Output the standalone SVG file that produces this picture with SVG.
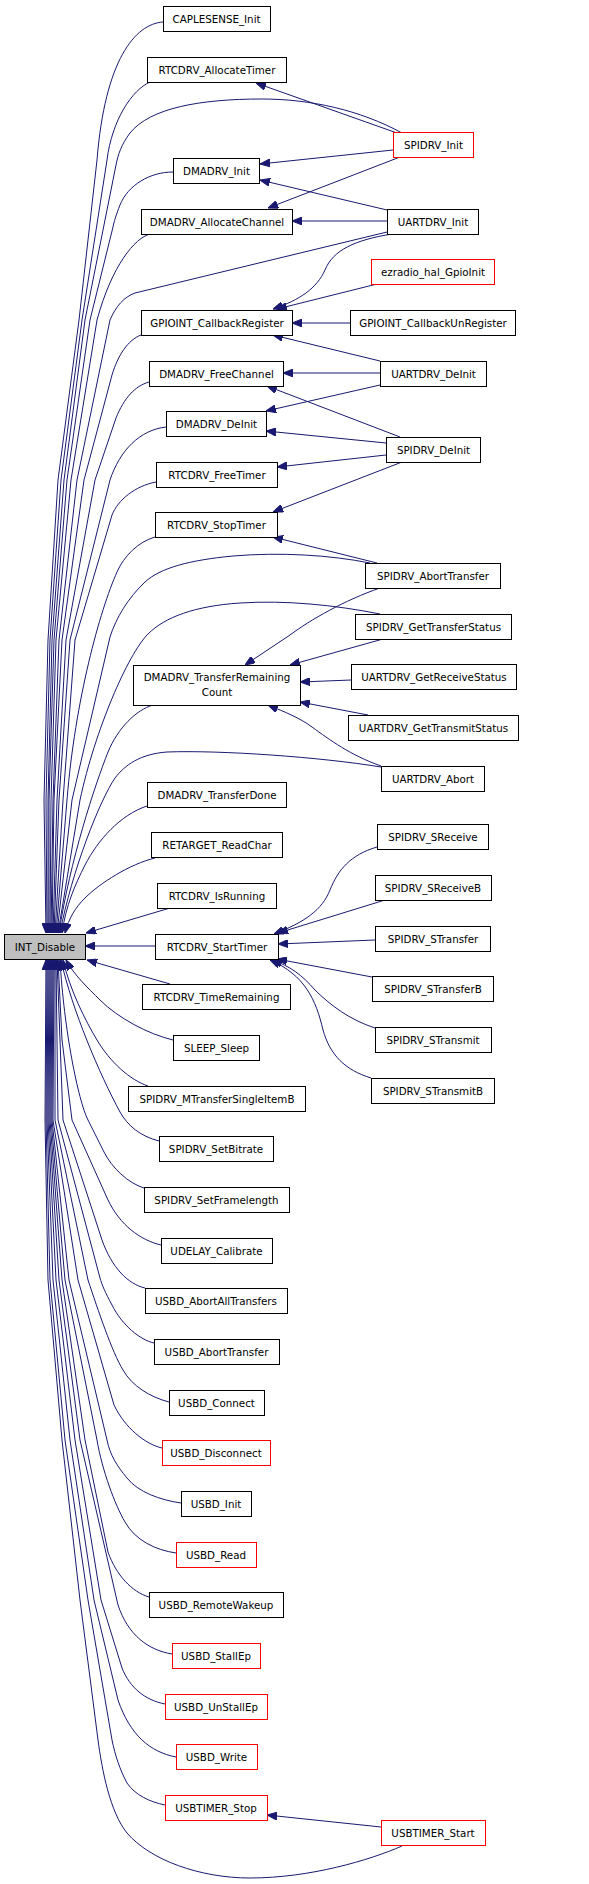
<svg xmlns="http://www.w3.org/2000/svg" width="589" height="1884" viewBox="0 0 589 1884">
<style>
.n rect{fill:#fff;stroke:#000;stroke-width:1}
.r rect{stroke:#f00}
.g rect{fill:#bfbfbf}
text{font-family:"DejaVu Sans","Liberation Sans",sans-serif;font-size:10.3px;text-anchor:middle;fill:#000}
#edges path{fill:none;stroke:#191970;stroke-width:1;marker-end:url(#ah)}
</style>
<defs>
<marker id="ah" viewBox="0 0 10 8" refX="10" refY="4" markerWidth="10" markerHeight="8" markerUnits="userSpaceOnUse" orient="auto">
<path d="M0,0 L10,4 L0,8 z" fill="#191970" stroke="#191970" stroke-width="1"/>
</marker>
</defs>
<rect width="589" height="1884" fill="#fff"/>
<g id="edges">
<path d="M163,22 C135,24 105,60 97,160 L79,320 L58,480 L48,640 L44,800 L46,933"/>
<path d="M150,82 C132,90 112,120 107,160 L82,320 L61,480 L50,640 L46,800 L47,933"/>
<path d="M402,133 C360,110 310,99 262,99 C200,99 150,108 130,133 C121,145 118,155 116,165 L85,320 L64,480 L52,640 L48,800 L48,933"/>
<path d="M173,172 C150,172 128,185 120,205 C116,215 114,222 113,227 L90,320 L67,480 L54,640 L49,800 L49,933"/>
<path d="M150,234 C135,238 112,265 97,320 L71,480 L56,640 L51,800 L50,933"/>
<path d="M387,232 L135,293 C124,297 116,306 110,320 L77,480 L59,640 L53,800 L51,933"/>
<path d="M141,335 C128,340 118,355 112,375 L84,480 L62,640 L54,800 L52,933"/>
<path d="M149,382 C135,386 124,398 116,418 L95,480 L66,640 L57,800 L53,933"/>
<path d="M166,427 C140,430 120,450 110,480 L70,640 L59,800 L54,933"/>
<path d="M156,482 C135,486 118,500 112,515 L75,640 L63,800 L55,933"/>
<path d="M155,537 C138,542 124,556 117,572 C100,610 75,700 67,800 L56,933"/>
<path d="M370,563 C330,555 280,552 233,556 C190,560 160,568 145,582 C128,598 116,618 110,637 L72,800 L57,933"/>
<path d="M380,614 C335,605 285,600 240,603 C195,606 165,617 148,634 C128,654 95,730 80,800 L58,933"/>
<path d="M153,705 C136,710 118,728 108,752 C95,785 70,860 59,933"/>
<path d="M381,767 C320,757 220,750 167,752 C140,754 125,765 115,778 C100,800 72,870 60,933"/>
<path d="M147,806 C120,815 98,840 85,865 C75,885 66,905 62,933"/>
<path d="M155,858 C130,864 100,883 85,898 C75,908 69,918 65,933"/>
<path d="M170,908 L86,933"/>
<path d="M155,946 L85,946"/>
<path d="M170,984 L87,960"/>
<path d="M173,1040 C148,1034 118,1018 100,1000 C88,988 74,975 66,960"/>
<path d="M148,1086 C130,1080 110,1062 97,1040 C85,1020 70,990 63,960"/>
<path d="M159,1141 C140,1136 128,1126 120,1112 C100,1075 72,1010 61,960"/>
<path d="M144,1188 C128,1183 112,1168 104,1152 L88,1120 C78,1100 64,1030 60,960"/>
<path d="M161,1245 C140,1240 120,1225 108,1200 L72,1120 L62,1040 L58,960"/>
<path d="M145,1288 C128,1284 112,1268 102,1240 L63,1120 L57,960"/>
<path d="M154,1343 C140,1340 122,1325 112,1305 C105,1292 102,1285 100,1278 L58,1120 L56,960"/>
<path d="M169,1402 C150,1397 132,1386 123,1370 C112,1352 98,1310 88,1280 L55,1120 L55,960"/>
<path d="M162,1448 C145,1444 125,1428 114,1405 L78,1280 L53,1120 L54,960"/>
<path d="M181,1503 C160,1500 138,1492 127,1478 C117,1466 110,1455 107,1440 L69,1280 L52,1120 L53,960"/>
<path d="M176,1553 C155,1550 135,1540 125,1522 C115,1505 102,1470 97,1440 L65,1280 L51,1120 L52,960"/>
<path d="M149,1597 C132,1592 116,1575 108,1552 L85,1440 L62,1280 L50,1120 L51,960"/>
<path d="M172,1654 C148,1650 128,1635 118,1605 L80,1440 L59,1280 L49,1120 L50,960"/>
<path d="M165,1704 C145,1700 130,1688 122,1668 L101,1600 L75,1440 L56,1280 L48,1120 L49,960"/>
<path d="M176,1757 C150,1752 130,1735 118,1700 L94,1600 L70,1440 L53,1280 L47,1120 L48,960"/>
<path d="M165,1805 C150,1802 135,1795 127,1783 C120,1770 115,1755 112,1740 L88,1600 L65,1440 L50,1280 L46,1120 L47,960"/>
<path d="M402,1846 C370,1860 310,1878 250,1878 C200,1878 150,1860 127,1833 C110,1812 102,1770 98,1740 L80,1600 L62,1440 L48,1280 L45,1120 L46,960"/>
<path d="M397,133 L256,83"/>
<path d="M393,150 L260,164"/>
<path d="M387,210 L260,180"/>
<path d="M400,157 L268,208"/>
<path d="M387,221 L292,221"/>
<path d="M392,234 C355,240 333,250 325,270 C317,288 300,300 273,309"/>
<path d="M377,284 L277,309"/>
<path d="M350,323 L292,323"/>
<path d="M380,361 L273,335"/>
<path d="M380,373 L283,373"/>
<path d="M400,437 L267,386"/>
<path d="M380,385 L266,411"/>
<path d="M386,443 L266,431"/>
<path d="M386,455 L277,467"/>
<path d="M402,462 L273,512"/>
<path d="M377,563 L273,537"/>
<path d="M380,588 C345,600 310,620 290,635 C275,645 260,655 245,665"/>
<path d="M383,639 L290,665"/>
<path d="M351,680 L300,682"/>
<path d="M368,715 L300,702"/>
<path d="M381,766 C350,755 330,740 312,727 C300,718 285,712 268,705"/>
<path d="M377,847 C350,855 338,870 330,890 C322,910 305,922 274,934"/>
<path d="M385,900 L278,933"/>
<path d="M375,940 L278,944"/>
<path d="M372,977 L277,959"/>
<path d="M375,1028 C350,1020 330,1005 315,990 C302,975 290,966 272,960"/>
<path d="M371,1078 C345,1070 330,1055 323,1030 C316,1000 305,975 270,960"/>
<path d="M381,1827 L267,1815"/>
</g>
<g id="n1" class="n"><rect x="163.5" y="6.5" width="107" height="25"/><text x="216.5" y="22.5">CAPLESENSE_Init</text></g>
<g id="n2" class="n"><rect x="147.5" y="57.5" width="139" height="25"/><text x="217" y="73.5">RTCDRV_AllocateTimer</text></g>
<g id="n3" class="n r"><rect x="393.5" y="132.5" width="80" height="25"/><text x="433.5" y="148.5">SPIDRV_Init</text></g>
<g id="n4" class="n"><rect x="173.5" y="158.5" width="86" height="25"/><text x="216.5" y="174.5">DMADRV_Init</text></g>
<g id="n5" class="n"><rect x="141.5" y="209.5" width="151" height="25"/><text x="217" y="225.5">DMADRV_AllocateChannel</text></g>
<g id="n6" class="n"><rect x="387.5" y="209.5" width="91" height="25"/><text x="433" y="225.5">UARTDRV_Init</text></g>
<g id="n7" class="n r"><rect x="371.5" y="259.5" width="123" height="25"/><text x="433" y="275.5">ezradio_hal_GpioInit</text></g>
<g id="n8" class="n"><rect x="141.5" y="310.5" width="151" height="25"/><text x="217" y="326.5">GPIOINT_CallbackRegister</text></g>
<g id="n9" class="n"><rect x="350.5" y="310.5" width="165" height="25"/><text x="433" y="326.5">GPIOINT_CallbackUnRegister</text></g>
<g id="n10" class="n"><rect x="149.5" y="361.5" width="134" height="25"/><text x="216.5" y="377.5">DMADRV_FreeChannel</text></g>
<g id="n11" class="n"><rect x="380.5" y="361.5" width="106" height="25"/><text x="433.5" y="377.5">UARTDRV_DeInit</text></g>
<g id="n12" class="n"><rect x="166.5" y="411.5" width="100" height="25"/><text x="216.5" y="427.5">DMADRV_DeInit</text></g>
<g id="n13" class="n"><rect x="386.5" y="437.5" width="94" height="25"/><text x="433.5" y="453.5">SPIDRV_DeInit</text></g>
<g id="n14" class="n"><rect x="156.5" y="462.5" width="121" height="25"/><text x="217" y="478.5">RTCDRV_FreeTimer</text></g>
<g id="n15" class="n"><rect x="155.5" y="512.5" width="122" height="25"/><text x="216.5" y="528.5">RTCDRV_StopTimer</text></g>
<g id="n16" class="n"><rect x="365.5" y="563.5" width="135" height="25"/><text x="433" y="579.5">SPIDRV_AbortTransfer</text></g>
<g id="n17" class="n"><rect x="355.5" y="614.5" width="156" height="25"/><text x="433.5" y="630.5">SPIDRV_GetTransferStatus</text></g>
<g id="n18" class="n"><rect x="133.5" y="665.5" width="167" height="40"/><text x="217" y="681">DMADRV_TransferRemaining</text><text x="217" y="696">Count</text></g>
<g id="n19" class="n"><rect x="351.5" y="664.5" width="165" height="25"/><text x="434" y="680.5">UARTDRV_GetReceiveStatus</text></g>
<g id="n20" class="n"><rect x="348.5" y="715.5" width="170" height="25"/><text x="433.5" y="731.5">UARTDRV_GetTransmitStatus</text></g>
<g id="n21" class="n"><rect x="381.5" y="766.5" width="103" height="25"/><text x="433" y="782.5">UARTDRV_Abort</text></g>
<g id="n22" class="n"><rect x="147.5" y="782.5" width="139" height="25"/><text x="217" y="798.5">DMADRV_TransferDone</text></g>
<g id="n23" class="n"><rect x="151.5" y="832.5" width="131" height="25"/><text x="217" y="848.5">RETARGET_ReadChar</text></g>
<g id="n24" class="n"><rect x="377.5" y="824.5" width="111" height="25"/><text x="433" y="840.5">SPIDRV_SReceive</text></g>
<g id="n25" class="n"><rect x="157.5" y="883.5" width="119" height="25"/><text x="217" y="899.5">RTCDRV_IsRunning</text></g>
<g id="n26" class="n"><rect x="375.5" y="875.5" width="116" height="25"/><text x="433" y="891.5">SPIDRV_SReceiveB</text></g>
<g id="n27" class="n g"><rect x="4.5" y="934.5" width="81" height="25"/><text x="45" y="950.5">INT_Disable</text></g>
<g id="n28" class="n"><rect x="155.5" y="934.5" width="123" height="25"/><text x="217" y="950.5">RTCDRV_StartTimer</text></g>
<g id="n29" class="n"><rect x="375.5" y="926.5" width="115" height="25"/><text x="433" y="942.5">SPIDRV_STransfer</text></g>
<g id="n30" class="n"><rect x="142.5" y="984.5" width="148" height="25"/><text x="216.5" y="1000.5">RTCDRV_TimeRemaining</text></g>
<g id="n31" class="n"><rect x="372.5" y="976.5" width="121" height="25"/><text x="433" y="992.5">SPIDRV_STransferB</text></g>
<g id="n32" class="n"><rect x="173.5" y="1035.5" width="86" height="25"/><text x="216.5" y="1051.5">SLEEP_Sleep</text></g>
<g id="n33" class="n"><rect x="375.5" y="1027.5" width="116" height="25"/><text x="433" y="1043.5">SPIDRV_STransmit</text></g>
<g id="n34" class="n"><rect x="128.5" y="1086.5" width="177" height="25"/><text x="217" y="1102.5">SPIDRV_MTransferSingleItemB</text></g>
<g id="n35" class="n"><rect x="371.5" y="1078.5" width="123" height="25"/><text x="433" y="1094.5">SPIDRV_STransmitB</text></g>
<g id="n36" class="n"><rect x="159.5" y="1136.5" width="114" height="25"/><text x="216" y="1152.5">SPIDRV_SetBitrate</text></g>
<g id="n37" class="n"><rect x="144.5" y="1187.5" width="145" height="25"/><text x="216.5" y="1203.5">SPIDRV_SetFramelength</text></g>
<g id="n38" class="n"><rect x="161.5" y="1238.5" width="111" height="25"/><text x="216.5" y="1254.5">UDELAY_Calibrate</text></g>
<g id="n39" class="n"><rect x="145.5" y="1288.5" width="142" height="25"/><text x="216" y="1304.5">USBD_AbortAllTransfers</text></g>
<g id="n40" class="n"><rect x="154.5" y="1339.5" width="125" height="25"/><text x="216.5" y="1355.5">USBD_AbortTransfer</text></g>
<g id="n41" class="n"><rect x="169.5" y="1390.5" width="95" height="25"/><text x="216.5" y="1406.5">USBD_Connect</text></g>
<g id="n42" class="n r"><rect x="162.5" y="1440.5" width="108" height="25"/><text x="216" y="1456.5">USBD_Disconnect</text></g>
<g id="n43" class="n"><rect x="181.5" y="1491.5" width="70" height="25"/><text x="216" y="1507.5">USBD_Init</text></g>
<g id="n44" class="n r"><rect x="176.5" y="1542.5" width="80" height="25"/><text x="216" y="1558.5">USBD_Read</text></g>
<g id="n45" class="n"><rect x="149.5" y="1592.5" width="134" height="25"/><text x="216" y="1608.5">USBD_RemoteWakeup</text></g>
<g id="n46" class="n r"><rect x="172.5" y="1643.5" width="88" height="25"/><text x="216" y="1659.5">USBD_StallEp</text></g>
<g id="n47" class="n r"><rect x="165.5" y="1694.5" width="102" height="25"/><text x="216" y="1710.5">USBD_UnStallEp</text></g>
<g id="n48" class="n r"><rect x="176.5" y="1744.5" width="81" height="25"/><text x="216.5" y="1760.5">USBD_Write</text></g>
<g id="n49" class="n r"><rect x="165.5" y="1795.5" width="102" height="25"/><text x="216" y="1811.5">USBTIMER_Stop</text></g>
<g id="n50" class="n r"><rect x="381.5" y="1820.5" width="104" height="25"/><text x="433" y="1836.5">USBTIMER_Start</text></g>
</svg>
